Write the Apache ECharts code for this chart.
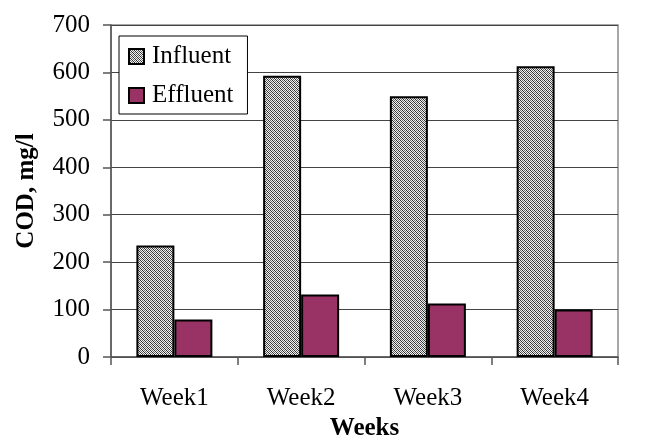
<!DOCTYPE html>
<html>
<head>
<meta charset="utf-8">
<script src="https://cdn.jsdelivr.net/npm/echarts@6/dist/echarts.min.js"></script>
<style>
  html, body { margin: 0; padding: 0; background: #fff; }
  #chart { width: 648px; height: 439px; }
</style>
</head>
<body>
<div id="chart"></div>
<script>
// data
const weeks = ["Week1", "Week2", "Week3", "Week4"]
const influent = [235, 593, 550, 613]
const effluent = [79, 132, 113, 100]
const yTicks = [0, 100, 200, 300, 400, 500, 600, 700]

const font = "Liberation Serif, Times New Roman, serif"

// fine checker hatch for the influent bars
const makeHatch = () => {
  const c = document.createElement("canvas")
  c.width = 4
  c.height = 4
  const ctx = c.getContext("2d")
  ctx.fillStyle = "#f2f2f2"
  ctx.fillRect(0, 0, 4, 4)
  for (let x = 0; x < 4; x++) {
    for (let y = 0; y < 4; y++) {
      if ((x + y) % 2 === 0) {
        ctx.fillStyle = (x - y + 4) % 4 === 0 ? "#2e2e2e" : "#6a6a6a"
        ctx.fillRect(x, y, 1, 1)
      }
    }
  }
  return c
}
const hatch = { image: makeHatch(), repeat: "repeat" }

const chart = echarts.init(document.getElementById("chart"))

chart.setOption({
  animation: false,
  backgroundColor: "#fff",
  textStyle: { fontFamily: font },
  grid: {
    left: 111,
    right: 30,
    top: 25,
    bottom: 82,
    outerBoundsMode: "none",
    show: true,
    borderColor: "#8a8a8a",
    borderWidth: 1.5,
  },
  legend: {
    orient: "vertical",
    left: 119,
    top: 36,
    padding: [8, 14, 6, 9],
    itemGap: 14,
    itemWidth: 15,
    itemHeight: 15,
    borderColor: "#000",
    borderWidth: 1,
    backgroundColor: "#fff",
    textStyle: { fontFamily: font, fontSize: 25, color: "#000", padding: [0, 0, 0, 3] },
    data: [
      { name: "Influent", icon: "rect" },
      { name: "Effluent", icon: "rect" },
    ],
  },
  xAxis: {
    type: "category",
    data: weeks,
    name: "Weeks",
    nameLocation: "middle",
    nameGap: 53,
    nameTextStyle: { fontFamily: font, fontSize: 25, fontWeight: "bold", color: "#000" },
    axisLine: { lineStyle: { color: "#555", width: 1.5 } },
    axisTick: { show: true, length: 8, lineStyle: { color: "#555", width: 1.5 } },
    axisLabel: { fontFamily: font, fontSize: 25, color: "#000", margin: 29 },
  },
  yAxis: {
    type: "value",
    min: 0,
    max: yTicks[yTicks.length - 1],
    interval: 100,
    name: "COD, mg/l",
    nameLocation: "middle",
    nameGap: 72,
    nameTextStyle: { fontFamily: font, fontSize: 25, fontWeight: "bold", color: "#000" },
    axisLine: { show: true, lineStyle: { color: "#555", width: 1.5 } },
    axisTick: { show: true, length: 8, lineStyle: { color: "#555", width: 1.5 } },
    axisLabel: { fontFamily: font, fontSize: 25, color: "#000", margin: 21 },
    splitLine: { lineStyle: { color: "#444", width: 1 } },
  },
  series: [
    {
      name: "Influent",
      type: "bar",
      data: influent,
      barWidth: 38,
      barGap: "0%",
      itemStyle: { color: hatch, borderColor: "#000", borderWidth: 2 },
    },
    {
      name: "Effluent",
      type: "bar",
      data: effluent,
      barWidth: 38,
      itemStyle: { color: "#993366", borderColor: "#000", borderWidth: 2 },
    },
  ],
})
</script>
</body>
</html>
